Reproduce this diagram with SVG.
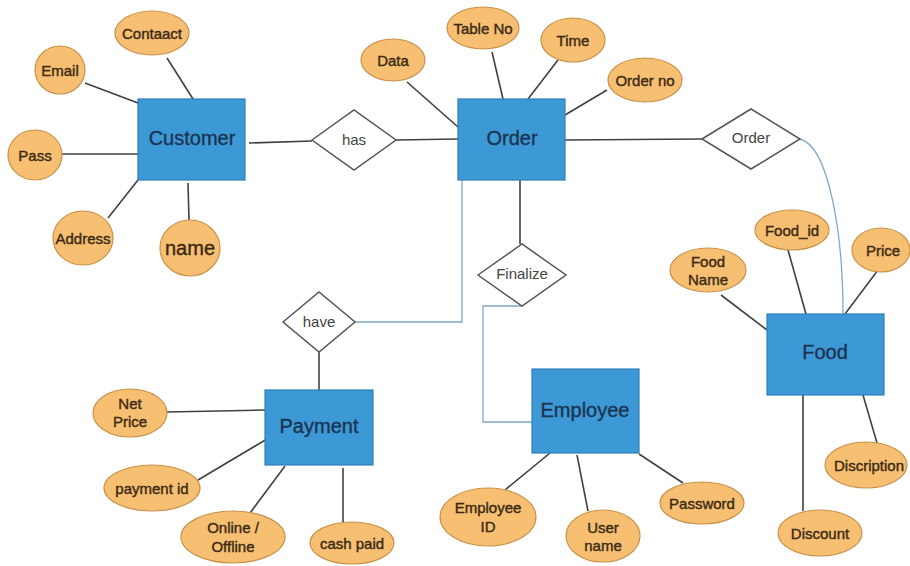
<svg xmlns="http://www.w3.org/2000/svg" width="910" height="566" viewBox="0 0 910 566">
  <style>
    .ent rect { fill: #3d99d6; stroke: #2f7fb8; stroke-width: 1.2; }
    .ent text { font-family: "Liberation Sans", Arial, sans-serif; font-size: 20px; fill: #1b3350; stroke: #1b3350; stroke-width: 0.35; text-anchor: middle; dominant-baseline: central; }
    .att ellipse { fill: #f7bf72; stroke: #c8924a; stroke-width: 1.2; }
    .att text { font-family: "Liberation Sans", Arial, sans-serif; font-size: 15px; fill: #3b2a14; stroke: #3b2a14; stroke-width: 0.4; text-anchor: middle; dominant-baseline: central; }
    .rel polygon { fill: #ffffff; stroke: #555555; stroke-width: 1.5; }
    .rel text { font-family: "Liberation Sans", Arial, sans-serif; font-size: 15px; fill: #444444; text-anchor: middle; dominant-baseline: central; }
    .links line, .links polyline, .links path { fill: none; stroke: #404040; stroke-width: 1.6; }
    .links .blue { stroke: #7fa9c8; stroke-width: 1.3; }
  </style>
  <rect width="910" height="566" fill="#ffffff"/>

  <!-- connectors -->
  <g id="connectors" class="links">
    <!-- Customer attributes -->
    <line x1="167" y1="58" x2="193" y2="99"/>
    <line x1="85" y1="83" x2="138" y2="103"/>
    <line x1="62" y1="154" x2="138" y2="154"/>
    <line x1="108" y1="218" x2="138" y2="180"/>
    <line x1="188" y1="183" x2="189" y2="220"/>
    <!-- Customer - has - Order -->
    <line x1="249" y1="143" x2="312" y2="141"/>
    <line x1="396" y1="140" x2="458" y2="139"/>
    <!-- Order attributes -->
    <line x1="407" y1="82" x2="458" y2="127"/>
    <line x1="492" y1="52" x2="503" y2="99"/>
    <line x1="558" y1="60" x2="528" y2="99"/>
    <line x1="607" y1="90" x2="565" y2="115"/>
    <!-- Order - Order(rel) - Food -->
    <line x1="565" y1="140" x2="702" y2="139"/>
    <path class="blue" d="M800,139 C828,146 843,230 843,314"/>
    <!-- Order - have - Payment -->
    <polyline class="blue" points="355,322 462,322 462,180"/>
    <line x1="319" y1="352" x2="319" y2="390"/>
    <!-- Order - Finalize - Employee -->
    <line x1="520" y1="180" x2="520" y2="244"/>
    <polyline class="blue" points="522,306 483,306 483,422 532,422"/>
    <!-- Food attributes -->
    <line x1="788" y1="250" x2="806" y2="314"/>
    <line x1="878" y1="270" x2="845" y2="314"/>
    <line x1="721" y1="295" x2="767" y2="330"/>
    <line x1="803" y1="395" x2="803" y2="511"/>
    <line x1="863" y1="395" x2="877" y2="443"/>
    <!-- Payment attributes -->
    <line x1="167" y1="412" x2="265" y2="410"/>
    <line x1="198" y1="480" x2="267" y2="439"/>
    <line x1="250" y1="513" x2="285" y2="466"/>
    <line x1="343" y1="468" x2="343" y2="522"/>
    <!-- Employee attributes -->
    <line x1="505" y1="490" x2="550" y2="453"/>
    <line x1="577" y1="455" x2="588" y2="511"/>
    <line x1="639" y1="454" x2="683" y2="483"/>
  </g>

  <!-- entities -->
  <g id="customer" class="ent"><rect x="138" y="99" width="107" height="81"/><text x="192" y="138">Customer</text></g>
  <g id="order" class="ent"><rect x="458" y="99" width="107" height="81"/><text x="512" y="138">Order</text></g>
  <g id="food" class="ent"><rect x="767" y="314" width="117" height="81"/><text x="825" y="352">Food</text></g>
  <g id="payment" class="ent"><rect x="265" y="390" width="108" height="75"/><text x="319" y="426">Payment</text></g>
  <g id="employee" class="ent"><rect x="532" y="369" width="107" height="84"/><text x="585" y="410">Employee</text></g>

  <!-- relationships -->
  <g id="rel-has" class="rel"><polygon points="312,140 354,110 396,140 354,170"/><text x="354" y="139">has</text></g>
  <g id="rel-order" class="rel"><polygon points="702,139 751,109 800,139 751,169"/><text x="751" y="137">Order</text></g>
  <g id="rel-have" class="rel"><polygon points="283,322 319,292 355,322 319,352"/><text x="319" y="321">have</text></g>
  <g id="rel-finalize" class="rel"><polygon points="478,275 522,244 566,275 522,306"/><text x="522" y="273">Finalize</text></g>

  <!-- Customer attributes -->
  <g id="att-contaact" class="att"><ellipse cx="152" cy="33" rx="37" ry="22"/><text x="152" y="33">Contaact</text></g>
  <g id="att-email" class="att"><ellipse cx="60" cy="70" rx="25" ry="24"/><text x="60" y="70">Email</text></g>
  <g id="att-pass" class="att"><ellipse cx="35" cy="155" rx="27" ry="25"/><text x="35" y="155">Pass</text></g>
  <g id="att-address" class="att"><ellipse cx="83" cy="238" rx="30" ry="27"/><text x="83" y="238">Address</text></g>
  <g id="att-name" class="att"><ellipse cx="190" cy="248" rx="30" ry="28"/><text x="190" y="248" style="font-size:20px">name</text></g>

  <!-- Order attributes -->
  <g id="att-data" class="att"><ellipse cx="393" cy="60" rx="32" ry="21"/><text x="393" y="60">Data</text></g>
  <g id="att-tableno" class="att"><ellipse cx="483" cy="28" rx="36" ry="21"/><text x="483" y="28">Table No</text></g>
  <g id="att-time" class="att"><ellipse cx="573" cy="40" rx="32" ry="22"/><text x="573" y="40">Time</text></g>
  <g id="att-orderno" class="att"><ellipse cx="645" cy="80" rx="37" ry="22"/><text x="645" y="80">Order no</text></g>

  <!-- Food attributes -->
  <g id="att-foodname" class="att"><ellipse cx="708" cy="270" rx="38" ry="22"/><text x="708" y="261">Food</text><text x="708" y="279">Name</text></g>
  <g id="att-foodid" class="att"><ellipse cx="792" cy="230" rx="37" ry="20"/><text x="792" y="230">Food_id</text></g>
  <g id="att-price" class="att"><ellipse cx="881" cy="250" rx="29" ry="22"/><text x="883" y="250">Price</text></g>
  <g id="att-discription" class="att"><ellipse cx="866" cy="465" rx="41" ry="23"/><text x="869" y="465">Discription</text></g>
  <g id="att-discount" class="att"><ellipse cx="820" cy="533" rx="42" ry="23"/><text x="820" y="533">Discount</text></g>

  <!-- Payment attributes -->
  <g id="att-netprice" class="att"><ellipse cx="130" cy="413" rx="37" ry="24"/><text x="130" y="403">Net</text><text x="130" y="421">Price</text></g>
  <g id="att-paymentid" class="att"><ellipse cx="152" cy="488" rx="48" ry="23"/><text x="152" y="488">payment id</text></g>
  <g id="att-onlineoffline" class="att"><ellipse cx="233" cy="537" rx="52" ry="26"/><text x="233" y="527">Online  /</text><text x="233" y="546">Offline</text></g>
  <g id="att-cashpaid" class="att"><ellipse cx="352" cy="543" rx="42" ry="21"/><text x="352" y="543">cash paid</text></g>

  <!-- Employee attributes -->
  <g id="att-employeeid" class="att"><ellipse cx="488" cy="517" rx="48" ry="29"/><text x="488" y="507">Employee</text><text x="488" y="526">ID</text></g>
  <g id="att-username" class="att"><ellipse cx="603" cy="536" rx="37" ry="26"/><text x="603" y="527">User</text><text x="603" y="545">name</text></g>
  <g id="att-password" class="att"><ellipse cx="702" cy="503" rx="42" ry="21"/><text x="702" y="503">Password</text></g>
</svg>
